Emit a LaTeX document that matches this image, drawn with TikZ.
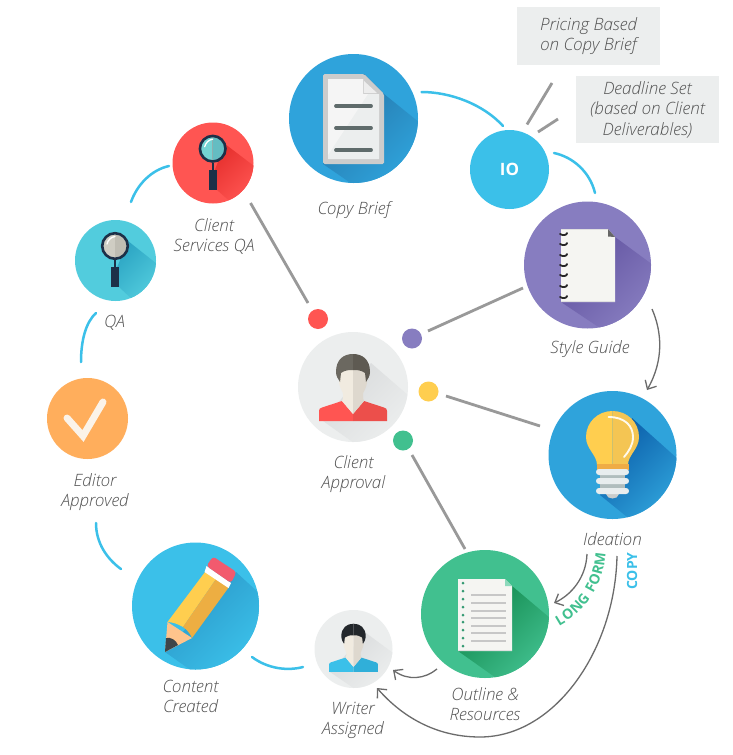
\documentclass[tikz,border=0pt]{standalone}
\usepackage{fontspec}
\setmainfont{Open Sans}
\newfontfamily\lightit[ItalicFont={Open Sans Light Italic},UprightFont={Open Sans Light}]{Open Sans Light}
\usetikzlibrary{arrows.meta,decorations.text}
\definecolor{cblue}{HTML}{2FA3DB}
\definecolor{sky}{HTML}{3BC0E9}
\definecolor{purp}{HTML}{877DC0}
\definecolor{grn}{HTML}{41C08F}
\definecolor{redc}{HTML}{FF5552}
\definecolor{teal}{HTML}{52CCDD}
\definecolor{oran}{HTML}{FFAE5C}
\definecolor{pale}{HTML}{ECEEEE}
\definecolor{yel}{HTML}{FFCE4F}
\definecolor{navy}{HTML}{1D3048}
\definecolor{paper}{HTML}{F5F5F2}
\definecolor{skinl}{HTML}{F1EBE0}
\definecolor{skinr}{HTML}{DED8CE}
\definecolor{docline}{HTML}{5F6B6B}
\definecolor{yelr}{HTML}{F4C553}
\definecolor{collar}{HTML}{EFAC45}
\definecolor{thread}{HTML}{E8EDEE}
\definecolor{threadd}{HTML}{B0BDBD}
\definecolor{bulbcap}{HTML}{C9CCCB}
\definecolor{hairdk}{HTML}{23272B}
\definecolor{bluer}{HTML}{30AFD9}
\definecolor{hairl}{HTML}{6B6860}
\definecolor{hairr}{HTML}{5E5A52}
\definecolor{redr}{HTML}{EC4F4B}
\definecolor{wood}{HTML}{FFC48C}
\definecolor{lead}{HTML}{3F4548}
\definecolor{pencilr}{HTML}{EDAE42}
\definecolor{eraser}{HTML}{F25A6E}
\definecolor{glassal}{HTML}{74D3D3}
\definecolor{glassar}{HTML}{64BDC2}
\definecolor{glassbl}{HTML}{CFCDC3}
\definecolor{glassbr}{HTML}{BFBDB3}
\definecolor{checkc}{HTML}{FBF3E9}
\definecolor{shcopy}{HTML}{2474A8}
\definecolor{shstyle}{HTML}{5F509E}
\definecolor{shidea}{HTML}{0A5CA8}
\definecolor{shout}{HTML}{0F8549}
\definecolor{shcl}{HTML}{D8DADB}
\definecolor{shpen}{HTML}{2A97C8}
\definecolor{shred}{HTML}{E52E2C}
\definecolor{shteal}{HTML}{2AA3C2}
\tikzset{
  disc/.style={circle,inner sep=0pt,minimum size=#1,draw=none},
  lbl/.style={font=\lightit\itshape\fontsize{17}{20}\selectfont,text=black!68,align=center,inner sep=0pt},
  bluearc/.style={draw=sky,line width=2.5pt,line cap=round},
  spoke/.style={draw=black!40,line width=2.8pt},
  flow/.style={draw=black!58,line width=1.3pt,-{Straight Barb[length=7pt,width=13pt,line width=1.3pt]}},
  tag/.style={fill=pale,inner sep=0pt,minimum width=143pt,align=center,font=\lightit\itshape\fontsize{17}{20.5}\selectfont,text=black!68},
}
% long shadow clipped to a disc: centre, radius, dark, light, polygon
\newcommand{\longshadow}[5]{%
  \begin{scope}\clip #1 circle (#2);
  \shade[top color=#3,bottom color=#4,shading angle=45] #5 -- cycle;
  \end{scope}}
% person: position, hair L, hair R, body L, body R, scale
\newcommand{\person}[6]{%
  \begin{scope}[shift={#1},scale=#6]
  \fill[#4] (-34,34) -- (-34,24) .. controls (-34,22) and (-33,21) .. (-31,20.5) -- (-11,14) -- (0,27) -- (0,34) -- cycle;
  \fill[#5] (34,34) -- (34,24) .. controls (34,22) and (33,21) .. (31,20.5) -- (11,14) -- (0,27) -- (0,34) -- cycle;
  \fill[skinl] (0,-20) -- (-13,-20) -- (-14,-4) .. controls (-13,2) and (-10,5) .. (-10,7) -- (-10,11) -- (-11,14) -- (0,27) -- cycle;
  \fill[skinr] (0,-20) -- (13,-20) -- (14,-4) .. controls (13,2) and (10,5) .. (10,7) -- (10,11) -- (11,14) -- (0,27) -- cycle;
  \fill[#2] (0,-33) .. controls (-9,-33) and (-17,-28) .. (-17,-15) .. controls (-17,-11) and (-15,-8) .. (-13,-5) -- (-12,-14) .. controls (-8,-17) and (-4,-17) .. (0,-17) -- cycle;
  \fill[#3] (0,-33) .. controls (9,-33) and (17,-28) .. (17,-15) .. controls (17,-11) and (15,-8) .. (13,-5) -- (12,-14) .. controls (8,-17) and (4,-17) .. (0,-17) -- cycle;
  \end{scope}}
% magnifier: glass centre, glass L, glass R
\newcommand{\magnifier}[3]{%
  \begin{scope}[shift={#1}]
  \fill[#2] (0,-13) arc[start angle=-90,end angle=-270,radius=13] -- cycle;
  \fill[#3] (0,-13) arc[start angle=-90,end angle=90,radius=13] -- cycle;
  \draw[navy,line width=2.6pt] (0,0) circle (12.8);
  \draw[white,line width=1.3pt,line cap=round] (-8,-2) .. controls (-7,-6) and (-4,-9) .. (0,-9.5);
  \fill[navy] (-1.2,14) rectangle (1.2,22);
  \fill[navy] (-4,21) rectangle (4,41);
  \end{scope}}
\begin{document}
\begin{tikzpicture}[x=1pt,y=-1pt]
\useasboundingbox (0,0) rectangle (733,755);
\fill[white] (0,0) rectangle (733,755);

%% tags
\node[tag,minimum height=58pt] (tagprice) at (588.5,36) {Pricing Based\\on Copy Brief};
\node[tag,minimum height=67pt] (tagdead) at (647.5,109.5) {Deadline Set\\(based on Client\\Deliverables)};

%% discs
\node[disc=129pt,fill=cblue] (copy) at (353.5,118.5) {};
\node[disc=79pt,fill=sky,text=white,font=\bfseries\fontsize{17}{18}\selectfont] (io) at (509.5,169.5) {IO};
\node[disc=127pt,fill=purp] (style) at (587.5,265) {};
\node[disc=128pt,fill=cblue] (idea) at (612.5,455) {};
\node[disc=128pt,fill=grn] (outline) at (485,614) {};
\node[disc=78pt,fill=pale] (writer) at (353.5,649) {};
\node[disc=127pt,fill=sky] (content) at (195.5,606) {};
\node[disc=81pt,fill=oran] (editor) at (87.5,418.5) {};
\node[disc=81pt,fill=teal] (qa) at (115.5,260.5) {};
\node[disc=81pt,fill=redc] (csqa) at (213,163) {};
\node[disc=110pt,fill=pale] (client) at (353,387) {};
\node[disc=20pt,fill=redc] (dotr) at (318,319) {};
\node[disc=20pt,fill=purp] (dotp) at (412,338.5) {};
\node[disc=20pt,fill=yel] (doty) at (428.5,391.5) {};
\node[disc=20pt,fill=grn] (dotg) at (403,440.5) {};

%% labels
\node[lbl] (lcopy) at (354,210) {Copy Brief};
\node[lbl] (lstyle) at (590,349) {Style Guide};
\node[lbl] (lidea) at (612.5,539) {Ideation};
\node[lbl] (loutline) at (485,704) {Outline \&\\Resources};
\node[lbl] (lwriter) at (353,720.5) {Writer\\Assigned};
\node[lbl] (lcontent) at (190.5,696) {Content\\Created};
\node[lbl] (leditor) at (95,492) {Editor\\Approved};
\node[lbl] (lqa) at (114.5,323) {QA};
\node[lbl] (lcsqa) at (214,236) {Client\\Services QA};
\node[lbl] (lclient) at (353.5,474) {Client\\Approval};

%% copy brief icon
\longshadow{(353.5,118.5)}{64.5}{shcopy}{cblue}{(364,74) -- (384,94) -- (420,123) -- (420,186) -- (355,186) -- (323,164)}
\fill[black!20,rounded corners=1.5pt] (323,74) -- (364,74) -- (384,94) -- (384,164) -- (323,164) -- cycle;
\fill[pale] (328,79) -- (363,79) -- (363,94) -- (379,94) -- (379,159) -- (328,159) -- cycle;
\fill[white!96!black] (328,79) -- (363,79) -- (363,94) -- (368,94) -- (328,155) -- cycle;
\fill[white!93!black] (364,81) -- (377,93) -- (364,93) -- cycle;
\foreach \yy in {106,128,150} \draw[line width=3.8pt,line cap=round,draw=docline] (336,\yy) -- (371,\yy);

%% style guide icon
\longshadow{(587.5,265)}{63.5}{shstyle}{purp}{(608,229) -- (615,237) -- (653,265) -- (653,330) -- (603,330) -- (561,302)}
\fill[paper] (561,229) -- (608,229) -- (615,237) -- (615,302) -- (561,302) -- cycle;
\fill[black!12] (561,229) rectangle (608,230);
\fill[black!12] (561,301) rectangle (615,302);
\fill[black!60] (608,229) -- (615,237) -- (608,236.5) -- cycle;
\foreach \yy in {234,244,255,265,275,286,297}
  \draw[line width=1.8pt,draw=black!85,line cap=round] (560,\yy) .. controls (563,\yy+2) and (567,\yy+1) .. (567,\yy-1);

%% ideation icon
\longshadow{(612.5,455)}{64}{shidea}{cblue}{(632,418) -- (679,460) -- (679,521) -- (632,521) -- (600,495)}
\fill[yel] (612.5,411) .. controls (598,411) and (586,422) .. (586,437) .. controls (586,449) and (597,455) .. (597,465) -- (612.5,465) -- cycle;
\fill[yelr] (612.5,411) .. controls (627,411) and (639,422) .. (639,437) .. controls (639,449) and (628,455) .. (628,465) -- (612.5,465) -- cycle;
\fill[collar] (596.5,464) rectangle (628.5,470);
\fill[threadd] (600,470) rectangle (625,494);
\fill[bulbcap] (606,494) -- (619,494) .. controls (618,500) and (607,500) .. (606,494) -- cycle;
\foreach \yy in {472,481,491} \fill[thread,rounded corners=2.9pt] (596,\yy-3) rectangle (629,\yy+3);
\draw[white!90!yel,line width=1.9pt,line cap=round] (608.5,417) .. controls (625,417) and (633,426) .. (633,437) .. controls (633,445) and (629,451) .. (624,457);

%% outline icon
\longshadow{(485,614)}{64}{shout}{grn}{(505,579) -- (512,586) -- (550,618) -- (550,680) -- (499,680) -- (458,651)}
\fill[paper] (458,579) -- (505,579) -- (512,586) -- (512,651) -- (458,651) -- cycle;
\fill[black!12] (458,650) rectangle (512,651);
\fill[grn!60!white] (505,579) -- (512,586) -- (505,586) -- cycle;
\foreach \yy in {583,591,599,607,615,622,630,638,646} \fill[grn!80!black] (463,\yy) circle (1.5);
\foreach \yy in {595,603,611,618,626,633,641} \draw[black!22,line width=1.1pt] (471,\yy) -- (506,\yy);

%% writer icon
\longshadow{(353.5,649)}{39}{shcl}{pale}{(366,633) -- (393,653) -- (393,689) -- (355,689) -- (330,672)}
\person{(353.5,647.5)}{hairdk}{hairdk}{sky}{bluer}{0.72}

%% client icon
\longshadow{(353,387)}{55}{shcl}{pale}{(371,363) -- (409,396) -- (409,443) -- (354,443) -- (323,421)}
\person{(353,387)}{hairl}{hairr}{redc}{redr}{1}

%% pencil icon
\longshadow{(195.5,606)}{63.5}{shpen}{sky}{(236,572) -- (260,594) -- (260,671) -- (192,671) -- (165,652)}
\fill[wood] (165,652) -- (167.5,622) -- (192,638) -- cycle;
\fill[lead] (165,652) -- (166,638) .. controls (171,637) and (176,640) .. (178,645) -- cycle;
\fill[yel] (167.5,622) -- (205,572) -- (216,579) -- (183,627) .. controls (178,624) and (172,622) .. (167.5,622) -- cycle;
\fill[pencilr] (183,627) -- (216,579) -- (229,587) -- (192,638) .. controls (190,633) and (187,630) .. (183,627) -- cycle;
\fill[white] (204.5,572) -- (206.5,566) -- (231,583) -- (228.5,588) -- cycle;
\fill[eraser,rounded corners=3pt] (206.5,566) -- (213,556.5) -- (236.5,572) -- (231,583) -- cycle;

%% magnifiers
\longshadow{(213,163)}{40.5}{shred}{redc}{(225,144) -- (254,166) -- (254,204) -- (233,204) -- (217,190) -- (209,185)}
\magnifier{(212.7,148.7)}{glassal}{glassar}
\longshadow{(115.5,260.5)}{40.5}{shteal}{teal}{(128,241) -- (157,264) -- (157,301) -- (134,301) -- (119,287) -- (111,282)}
\magnifier{(115,246)}{glassbl}{glassbr}

%% check
\draw[line width=7pt,line cap=round,line join=miter,draw=checkc] (67,418) -- (83,436) -- (103,402);

%% end points of connectors
\coordinate (a1) at (421.5,92);   \coordinate (a2) at (503,126);
\coordinate (b1) at (554,153);    \coordinate (b2) at (595,193);
\coordinate (c1) at (169,166);    \coordinate (c2) at (131,202);
\coordinate (d1) at (96,313);     \coordinate (d2) at (81,362);
\coordinate (e1) at (96,523);     \coordinate (e2) at (121,569);
\coordinate (f1) at (252,657);    \coordinate (f2) at (303,667);
\coordinate (s1) at (250.5,203);  \coordinate (s2) at (308,303);
\coordinate (s3) at (428,331);    \coordinate (s4) at (523,288);
\coordinate (s5) at (446,396);    \coordinate (s6) at (540,426);
\coordinate (s7) at (412,455);    \coordinate (s8) at (465,549);
\coordinate (s9) at (552,83);     \coordinate (s10) at (527,124.5);
\coordinate (s11) at (558,119);   \coordinate (s12) at (538,132);
\coordinate (g1) at (652,309);    \coordinate (g2) at (647,390);
\coordinate (h1) at (587,554);    \coordinate (h2) at (554,603);
\coordinate (i1) at (617,556);    \coordinate (i2) at (377,688);
\coordinate (j1) at (437,669);    \coordinate (j2) at (393,670);

%% blue arcs
\draw[bluearc] (a1) .. controls (450,92) and (483,104) .. (a2);
\draw[bluearc] (b1) .. controls (573,157) and (590,172) .. (b2);
\draw[bluearc] (c1) .. controls (151,170) and (137,185) .. (c2);
\draw[bluearc] (d1) .. controls (86,322) and (81,340) .. (d2);
\draw[bluearc] (e1) .. controls (96,543) and (107,559) .. (e2);
\draw[bluearc] (f1) .. controls (268,669) and (288,671) .. (f2);

%% grey spokes
\draw[spoke] (s1) -- (s2);
\draw[spoke] (s3) -- (s4);
\draw[spoke] (s5) -- (s6);
\draw[spoke] (s7) -- (s8);
\draw[spoke] (s9) -- (s10);
\draw[spoke] (s11) -- (s12);

%% flow arrows
\draw[flow] (g1) .. controls (662,332) and (664,360) .. (g2);
\draw[flow] (h1) .. controls (586,578) and (571,595) .. (h2);
\draw[flow] (i1) .. controls (615,650) and (555,737) .. (480,737) .. controls (440,737) and (405,720) .. (i2);
\draw[flow] (j1) .. controls (425,679) and (408,681) .. (j2);

%% route labels
\coordinate (lf1) at (559,626);
\coordinate (lf2) at (605.5,553);
\path[decorate,decoration={text along path,text align={fit to path},text={|\bfseries\fontsize{14}{16}\selectfont\color{grn}|LONG FORM}}] (lf1) .. controls (585,612) and (604,585) .. (lf2);
\node[rotate=90,font=\bfseries\fontsize{14}{16}\selectfont,text=sky,inner sep=0pt] (lcopyroute) at (632,571) {COPY};
\end{tikzpicture}
\end{document}
